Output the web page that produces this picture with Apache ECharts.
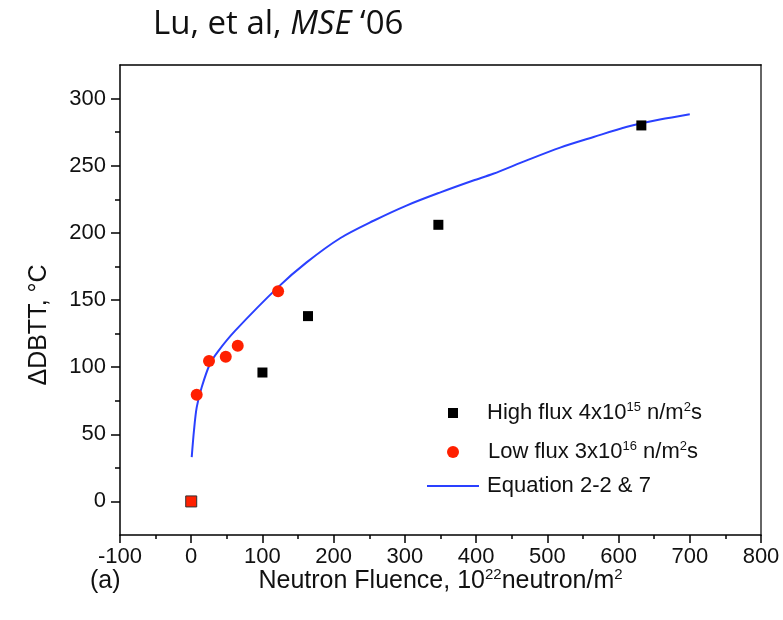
<!DOCTYPE html>
<html>
<head>
<meta charset="utf-8">
<script src="https://cdn.jsdelivr.net/npm/echarts@6/dist/echarts.min.js"></script>
<style>
  html, body { margin: 0; padding: 0; background: #fff; }
  #chart { width: 783px; height: 620px; }
</style>
</head>
<body>
<div id="chart"></div>
<script>
// neutron fluence (10^22 n/m^2) vs shift of DBTT (C)
var highFluxX = [0, 100, 164, 347, 632];
var highFluxY = [0, 96, 138, 206, 280];
var lowFluxX = [0, 7.7, 25, 48.5, 65.3, 122];
var lowFluxY = [0, 79.5, 104.5, 107.8, 116, 156.5];
// blue curve
var eqX = [0.7, 3.9, 7.7, 14.7, 26.4, 38, 61.5, 122, 162, 209, 256, 303, 349, 396, 424, 471, 518, 565, 612, 658, 700];
var eqY = [33, 53, 70, 85, 102.5, 112, 127, 159.6, 178, 196, 209, 220.5, 230, 239, 244, 254, 263.5, 271.4, 279, 284.4, 288.4];
var yTicks = [0, 50, 100, 150, 200, 250, 300];
var yMinorTicks = [25, 75, 125, 175, 225, 275];

function pairs (xs, ys) {
  return xs.map(function (x, i) { return [x, ys[i]]; });
}

var font = 'Liberation Sans';
var black = { color: '#000', width: 1.5 };
var legendRich = {
  gap: { width: 24 },
  gap2: { width: 3 },
  t: { fontFamily: font, fontSize: 22, color: '#111', lineHeight: 24 },
  s: { fontFamily: font, fontSize: 13, color: '#111', lineHeight: 13, verticalAlign: 'top' }
};
var legendText = {
  'High flux': '{gap|}{t|High flux 4x10}{s|15}{t| n/m}{s|2}{t|s}',
  'Low flux': '{gap|}{t|Low flux 3x10}{s|16}{t| n/m}{s|2}{t|s}',
  'Equation 2-2 & 7': '{gap2|}{t|Equation 2-2 & 7}'
};
function legendFor (name, left, top, w, h, icon) {
  var lg = {
    data: [name], left: left, top: top, padding: 0,
    itemWidth: w, itemHeight: h, selectedMode: false,
    formatter: function (n) { return legendText[n]; },
    textStyle: { rich: legendRich }
  };
  if (icon) lg.icon = icon;
  return lg;
}

// the low flux point at the origin is drawn as a red square in the figure
var lowFluxData = pairs(lowFluxX, lowFluxY).map(function (p, i) {
  if (i === 0) {
    return { value: p, symbol: 'rect', symbolSize: 11, itemStyle: { borderColor: '#333', borderWidth: 1 } };
  }
  return p;
});

var myChart = echarts.init(document.getElementById('chart'));
var option = {
  animation: false,
  title: {
    text: '{n|Lu, et al, }{i|MSE}{n| \u201806}',
    left: 153, top: 8, padding: 0,
    textStyle: {
      rich: {
        n: { fontFamily: 'Open Sans', fontSize: 33, fontWeight: 'normal', color: '#111' },
        i: { fontFamily: 'Open Sans', fontSize: 33, fontWeight: 'normal', color: '#111', fontStyle: 'italic' }
      }
    }
  },
  legend: [
    legendFor('High flux', 448, 401, 10, 10),
    legendFor('Low flux', 447, 440, 12, 12),
    legendFor('Equation 2-2 & 7', 427, 475, 52, 2, 'rect')
  ],
  graphic: [{
    type: 'text', left: 90, top: 569,
    style: { text: '(a)', font: '25px "Liberation Sans"', fill: '#111' }
  }],
  grid: { left: 120, right: 22, top: 65, bottom: 85 },
  xAxis: [{
    type: 'value', position: 'bottom', min: -100, max: 800, interval: 100,
    axisLine: { onZero: false, lineStyle: black },
    axisTick: { length: 8, lineStyle: black },
    minorTick: { show: true, splitNumber: 2, length: 4, lineStyle: black },
    axisLabel: { margin: 11, fontFamily: font, fontSize: 22, color: '#111' },
    splitLine: { show: false },
    name: '{t|Neutron Fluence, 10}{s|22}{t|neutron/m}{s|2}',
    nameLocation: 'middle', nameGap: 32, nameMoveOverlap: false,
    nameTextStyle: {
      rich: {
        t: { fontFamily: font, fontSize: 25, color: '#111', lineHeight: 28 },
        s: { fontFamily: font, fontSize: 15, color: '#111', lineHeight: 15, verticalAlign: 'top' }
      }
    }
  }, {
    type: 'value', position: 'top', min: -100, max: 800,
    axisLine: { onZero: false, lineStyle: black },
    axisTick: { show: false }, axisLabel: { show: false }, splitLine: { show: false }
  }],
  yAxis: [{
    type: 'value', position: 'left', min: -25, max: 325,
    axisLine: { onZero: false, lineStyle: black },
    axisTick: { length: 9, lineStyle: black, customValues: yTicks },
    axisLabel: { margin: 14, fontFamily: font, fontSize: 22, color: '#111', customValues: yTicks },
    splitLine: { show: false },
    name: '\u0394DBTT, \u00b0C', nameLocation: 'middle', nameGap: 68, nameMoveOverlap: false,
    nameTextStyle: { fontFamily: font, fontSize: 25, color: '#111', padding: [0, 50, 0, 0] }
  }, {
    type: 'value', position: 'left', min: -25, max: 325,
    axisLine: { show: false, onZero: false },
    axisTick: { length: 5, lineStyle: black, customValues: yMinorTicks },
    axisLabel: { show: false }, splitLine: { show: false }
  }, {
    type: 'value', position: 'right', min: -25, max: 325,
    axisLine: { onZero: false, lineStyle: { color: '#666', width: 2 } },
    axisTick: { show: false }, axisLabel: { show: false }, splitLine: { show: false }
  }],
  series: [{
    name: 'Equation 2-2 & 7', type: 'line', smooth: 0.3, symbol: 'none',
    data: pairs(eqX, eqY),
    lineStyle: { color: '#2a40ff', width: 2 }, itemStyle: { color: '#2a40ff' }, z: 1
  }, {
    name: 'High flux', type: 'scatter', symbol: 'rect', symbolSize: 10,
    data: pairs(highFluxX, highFluxY), itemStyle: { color: '#000', opacity: 1 }, z: 2
  }, {
    name: 'Low flux', type: 'scatter', symbol: 'circle', symbolSize: 12,
    data: lowFluxData, itemStyle: { color: '#ff2000', opacity: 1 }, z: 3
  }]
};
myChart.setOption(option);
</script>
</body>
</html>
